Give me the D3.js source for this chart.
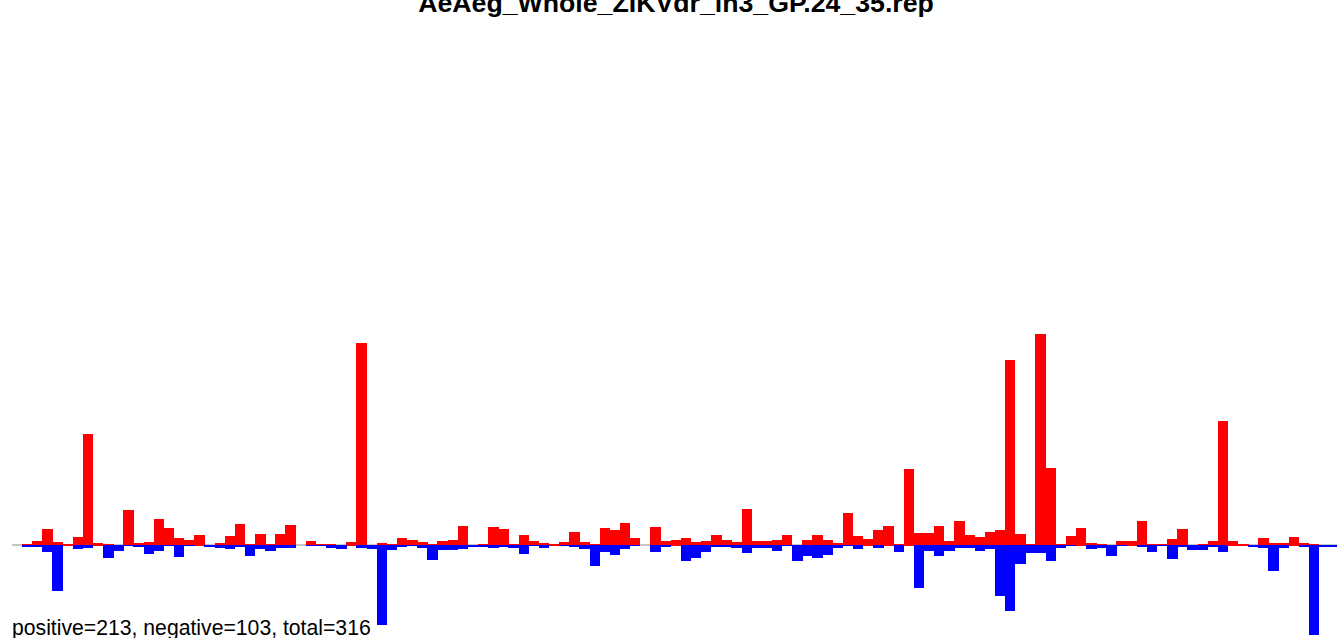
<!DOCTYPE html>
<html>
<head>
<meta charset="utf-8">
<script src="https://cdn.jsdelivr.net/npm/d3@7"></script>
<style>
  html, body { margin: 0; padding: 0; background: #fff; overflow: hidden; }
  svg { display: block; }
</style>
</head>
<body>
<svg id="chart" width="1337" height="638"></svg>
<script>
const title = "AeAeg_Whole_ZIKVdr_lh3_GP.24_35.rep";
const summary = "positive=213, negative=103, total=316";

// slot positions 1..130 (slot 0 is empty padding)
const positions = d3.range(1, 131);

const positiveValues = [
  1.3, 4, 16, 3, 1, 8, 111, 2, 1.3, 0,
  35, 2, 3, 26, 17, 7, 5, 10, 0, 2,
  9, 21, 1.3, 11, 1.3, 11.3, 20, 0, 4, 1.3,
  1.3, 0, 3, 202, 0, 2, 1.3, 7, 5, 3,
  1.3, 4, 5, 19, 0, 1.3, 18, 16, 1.3, 10.3,
  4, 2, 0.7, 3, 13, 3, 1.3, 17, 15, 22,
  7, 0, 18, 4, 5, 7, 3, 4, 10, 5,
  3, 36, 4, 4, 5, 10, 0, 5, 10.3, 5,
  2.3, 32, 9.3, 6.3, 15.3, 19.3, 1.3, 76.3, 12.3, 12.3,
  19.3, 4, 24.3, 10.3, 8.3, 13.3, 15.3, 185, 11.3, 1.3,
  211, 77, 1.3, 9.3, 17, 2.3, 1.3, 0, 4, 4,
  24.3, 1.3, 1.3, 6.3, 16, 0, 1.3, 4, 124.3, 4,
  0.7, 0, 7, 2.3, 2.3, 8, 2.3, 1.3, 0, 0
];

const negativeValues = [
  2, 2, 7, 45.7, 0, 3.7, 2.7, 0, 12.7, 5.7,
  0.7, 1.7, 8.7, 6, 1, 12, 0.7, 0, 1.7, 2.7,
  3.7, 1.7, 10.7, 4.3, 6, 2.7, 2.7, 0, 0.7, 0.5,
  2.7, 3.7, 0, 2.7, 3.7, 79.5, 4.7, 1.7, 0.7, 2.7,
  14.7, 4.7, 4.7, 3.7, 1.7, 1.7, 2.7, 1.7, 2.7, 8.7,
  0.7, 2.7, 0, 0.7, 1.7, 3.7, 20.7, 6.7, 9.7, 3.7,
  0.7, 0, 6.7, 1.7, 0, 15.7, 12.7, 6.7, 1.7, 1.7,
  2.7, 7.7, 2.7, 2.7, 5.7, 0.5, 15.7, 10.7, 12.7, 9.7,
  2.7, 0.5, 3.7, 0, 2.7, 0, 6.7, 0, 42.5, 5.7,
  10.7, 5.7, 2.7, 2.7, 5.7, 3.7, 50.7, 65.7, 18.7, 7.7,
  7.7, 15.5, 2.7, 0.7, 0, 3.7, 2.7, 10.7, 0.7, 0,
  1.7, 6.7, 0.7, 13.7, 1.7, 4.7, 4.7, 1.7, 6.7, 0,
  0, 1.7, 2.7, 25.7, 2.7, 0, 1.7, 89.5, 1.7, 1.7
];

const svg = d3.select("#chart");

const slotCount = 131;
const x = d3.scaleLinear().domain([0, slotCount]).range([11.87, 11.87 + slotCount * 10.134]);
const y = d3.scaleLinear().domain([0, 100]).range([545, 445]);
const bw = x(1) - x(0);

// baseline
svg.append("line")
  .attr("x1", x(0)).attr("x2", x(slotCount))
  .attr("y1", y(0)).attr("y2", y(0))
  .attr("stroke", "#8c8c8c").attr("stroke-width", 1);

const data = positions.map((p, i) => ({ p, pos: positiveValues[i], neg: negativeValues[i] }));

svg.append("g").selectAll("rect")
  .data(data.filter(d => d.pos > 0))
  .join("rect")
  .attr("x", d => x(d.p))
  .attr("width", bw + 0.3)
  .attr("y", d => y(d.pos))
  .attr("height", d => y(0) - y(d.pos) + 1)
  .attr("fill", "#ff0000")
  .attr("shape-rendering", "crispEdges");

svg.append("g").selectAll("rect")
  .data(data.filter(d => d.neg > 0))
  .join("rect")
  .attr("x", d => x(d.p))
  .attr("width", bw + 0.3)
  .attr("y", y(0))
  .attr("height", d => y(-d.neg) - y(0))
  .attr("fill", "#0000ff")
  .attr("shape-rendering", "crispEdges");

svg.append("text")
  .attr("x", 676).attr("y", 12)
  .attr("text-anchor", "middle")
  .attr("font-family", "Liberation Sans, Arial, sans-serif")
  .attr("font-weight", "bold")
  .attr("font-size", 26.7)
  .attr("fill", "#000")
  .text(title);

svg.append("text")
  .attr("x", 12).attr("y", 635)
  .attr("font-family", "Liberation Sans, Arial, sans-serif")
  .attr("font-size", 21.2)
  .attr("fill", "#000")
  .text(summary);
</script>
</body>
</html>
